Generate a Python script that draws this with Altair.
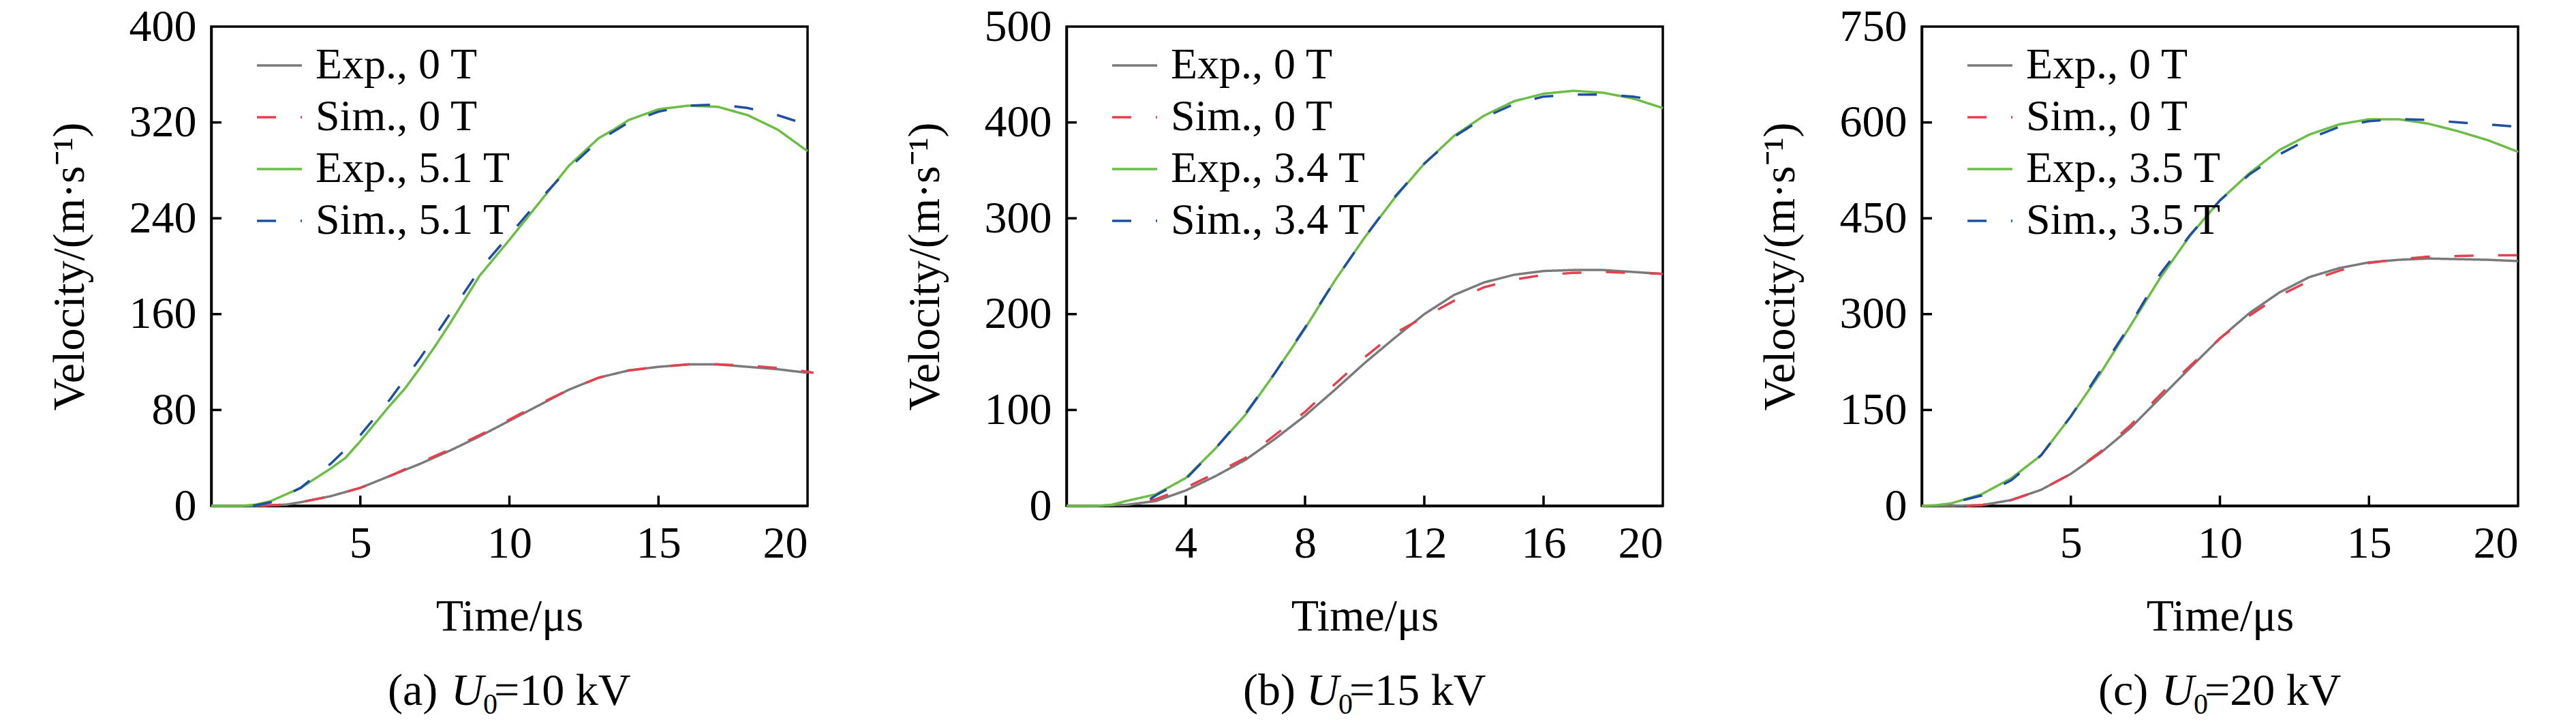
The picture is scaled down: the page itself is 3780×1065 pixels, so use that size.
import altair as alt
import pandas as pd

FONT = "Liberation Serif"
W, H = 875, 703
COLORS = ["#7a7a7a", "#e5404e", "#6cbd45", "#1f4fa0"]
DASHES = [[1, 0], [28, 36], [1, 0], [28, 36]]

# ---------- Panel (a): U0 = 10 kV ----------
a_exp0_t = [0, 1.5, 2.5, 3, 4, 5, 6, 7, 8, 9, 10, 11, 12, 13, 14, 15, 16, 17, 18, 19, 20]
a_exp0_v = [0, 0, 1, 3, 8, 15, 25, 35, 46, 58, 71, 84, 97, 107, 113, 116, 118, 118, 116, 114, 111]
a_sim0_t = [1.7, 2.5, 3, 4, 5, 6, 7, 8, 9, 10, 11, 12, 13, 14, 15, 16, 17, 18, 19, 20, 20.2]
a_sim0_v = [0, 1, 3, 8, 15, 25, 36, 47, 59, 72, 85, 97, 107, 113, 116, 118, 118, 117, 115, 112, 111]
a_expB_t = [0, 1, 1.5, 2, 3, 4, 4.5, 5, 6, 6.5, 7, 7.5, 8, 9, 10, 11, 12, 13, 13.5, 14, 15, 16, 17, 18, 19, 20]
a_expB_v = [0, 0, 1, 4, 15, 31, 40, 54, 84, 98, 115, 133, 152, 192, 222, 253, 284, 307, 314, 322, 331, 334, 333, 326, 314, 296]
a_simB_t = [1.4, 2, 3, 4, 5, 6, 7, 8, 9, 10, 11, 12, 13, 14, 15, 16, 17, 18, 19, 20]
a_simB_v = [0, 3, 15, 35, 59, 89, 123, 160, 197, 226, 255, 282, 305, 320, 329, 334, 335, 332, 326, 318]

# ---------- Panel (b): U0 = 15 kV ----------
b_exp0_t = [0, 1, 2, 3, 4, 5, 6, 7, 8, 9, 10, 11, 12, 13, 14, 15, 16, 17, 18, 19, 20]
b_exp0_v = [0, 0, 1, 5, 16, 31, 48, 70, 94, 121, 149, 175, 200, 220, 233, 241, 245, 246, 246, 244, 242]
b_sim0_t = [2.8, 3, 4, 5, 6, 7, 8, 9, 10, 11, 12, 13, 14, 15, 16, 17, 18, 19, 20]
b_sim0_v = [5, 7, 19, 34, 50, 74, 98, 127, 155, 180, 197, 214, 228, 236, 241, 243, 244, 243, 242]
b_expB_t = [0, 1, 1.5, 2, 3, 4, 5, 6, 7, 8, 9, 10, 11, 12, 13, 14, 15, 16, 17, 18, 19, 20]
b_expB_v = [0, 0, 1, 5, 12, 29, 60, 95, 139, 185, 235, 280, 321, 357, 386, 407, 422, 430, 433, 431, 425, 415]
b_simB_t = [2.8, 3, 4, 5, 6, 7, 8, 9, 10, 11, 12, 13, 14, 15, 16, 17, 18, 19, 20]
b_simB_v = [7, 11, 28, 60, 96, 139, 186, 235, 280, 322, 357, 385, 405, 419, 427, 429, 429, 427, 422]

# ---------- Panel (c): U0 = 20 kV ----------
c_exp0_t = [0, 1, 2, 3, 4, 5, 6, 7, 8, 9, 10, 11, 12, 13, 14, 15, 16, 17, 18, 19, 20]
c_exp0_v = [0, 0, 1, 9, 25, 50, 83, 122, 169, 216, 262, 302, 334, 358, 372, 381, 385, 387, 386, 385, 383]
c_sim0_t = [1.5, 2, 3, 4, 5, 6, 7, 8, 9, 10, 11, 12, 13, 14, 15, 16, 17, 18, 19, 20]
c_sim0_v = [0, 1, 9, 25, 50, 85, 126, 174, 219, 262, 298, 329, 352, 368, 380, 386, 390, 391, 392, 392]
c_expB_t = [0, 0.5, 1, 2, 3, 4, 5, 6, 7, 8, 9, 10, 11, 12, 13, 14, 15, 16, 17, 18, 19, 20]
c_expB_v = [0, 1, 4, 18, 43, 79, 140, 208, 282, 357, 423, 478, 521, 557, 581, 597, 605, 605, 598, 586, 572, 554]
c_simB_t = [1.4, 2, 3, 4, 5, 6, 7, 8, 9, 10, 11, 12, 13, 14, 15, 16, 17, 18, 19, 20]
c_simB_v = [9, 16, 40, 79, 140, 212, 284, 363, 424, 478, 519, 550, 575, 593, 602, 605, 604, 600, 597, 593]

panels = [
    dict(field="5.1", ymax=400, yticks=[0, 80, 160, 240, 320, 400], xticks=[5, 10, 15, 20],
         label="(a)", volt="=10 kV",
         series=[(a_exp0_t, a_exp0_v), (a_sim0_t, a_sim0_v), (a_expB_t, a_expB_v), (a_simB_t, a_simB_v)]),
    dict(field="3.4", ymax=500, yticks=[0, 100, 200, 300, 400, 500], xticks=[4, 8, 12, 16, 20],
         label="(b)", volt="=15 kV",
         series=[(b_exp0_t, b_exp0_v), (b_sim0_t, b_sim0_v), (b_expB_t, b_expB_v), (b_simB_t, b_simB_v)]),
    dict(field="3.5", ymax=750, yticks=[0, 150, 300, 450, 600, 750], xticks=[5, 10, 15, 20],
         label="(c)", volt="=20 kV",
         series=[(c_exp0_t, c_exp0_v), (c_sim0_t, c_sim0_v), (c_expB_t, c_expB_v), (c_simB_t, c_simB_v)]),
]


def make_panel(p):
    names = ["Exp., 0 T", "Sim., 0 T", f"Exp., {p['field']} T", f"Sim., {p['field']} T"]
    rows = []
    for name, (ts, vs) in zip(names, p["series"]):
        for t, v in zip(ts, vs):
            rows.append({"t": t, "v": v, "series": name})
    df = pd.DataFrame(rows)

    xscale = alt.Scale(domain=[0, 20], nice=False, zero=False)
    yscale = alt.Scale(domain=[0, p["ymax"]], nice=False)

    lines = alt.Chart(df).mark_line(strokeWidth=3.5, clip=False).encode(
        x=alt.X("t:Q", scale=xscale,
                axis=alt.Axis(values=p["xticks"], ticks=False, labelPadding=55,
                              labelBaseline="middle", title="Time/μs",
                              titleY=182, titleBaseline="alphabetic", grid=False)),
        y=alt.Y("v:Q", scale=yscale,
                axis=alt.Axis(values=p["yticks"], ticks=False, labelPadding=22,
                              title="Velocity/(m·s⁻¹)", titleX=-174, titleY=H / 2,
                              titleBaseline="bottom", titleAlign="center", titleAngle=270,
                              grid=False)),
        color=alt.Color("series:N", scale=alt.Scale(domain=names, range=COLORS), title=None,
                        legend=alt.Legend(orient="none", legendX=65, legendY=22)),
        strokeDash=alt.StrokeDash("series:N", scale=alt.Scale(domain=names, range=DASHES),
                                  title=None),
        order=alt.Order("t:Q"),
    )

    xt = alt.Chart(pd.DataFrame({"tick": p["xticks"][:-1]})).mark_rule(
        color="black", strokeWidth=3.5).encode(
        x=alt.X("tick:Q", scale=xscale), y=alt.value(H), y2=alt.value(H - 15))
    yt = alt.Chart(pd.DataFrame({"tick": p["yticks"][1:-1]})).mark_rule(
        color="black", strokeWidth=3.5).encode(
        y=alt.Y("tick:Q", scale=yscale), x=alt.value(0), x2=alt.value(15))

    base = alt.Chart(pd.DataFrame({"k": [0]}))
    x0 = 259
    yb = 995
    cap1 = base.mark_text(font=FONT, fontSize=66, align="left", baseline="alphabetic",
                          color="black").encode(x=alt.value(x0), y=alt.value(yb),
                                                text=alt.value(p["label"]))
    cap2 = base.mark_text(font=FONT, fontSize=66, align="left", baseline="alphabetic",
                          fontStyle="italic", color="black").encode(
        x=alt.value(x0 + 93), y=alt.value(yb), text=alt.value("U"))
    cap3 = base.mark_text(font=FONT, fontSize=42, align="left", baseline="alphabetic",
                          color="black").encode(
        x=alt.value(x0 + 140), y=alt.value(yb + 13), text=alt.value("0"))
    cap4 = base.mark_text(font=FONT, fontSize=66, align="left", baseline="alphabetic",
                          color="black").encode(
        x=alt.value(x0 + 156), y=alt.value(yb), text=alt.value(p["volt"]))

    return alt.layer(lines, xt, yt, cap1, cap2, cap3, cap4).properties(width=W, height=H)


chart = alt.hconcat(*[make_panel(p) for p in panels], spacing=380, bounds="flush").resolve_scale(
    x="independent", y="independent", color="independent", strokeDash="independent"
).resolve_legend(color="independent", strokeDash="independent").properties(
    padding={"left": 59, "top": -4, "right": 10, "bottom": 5}
).configure_view(
    stroke="black", strokeWidth=3.5
).configure_axis(
    domainColor="black", domainWidth=3.5, labelFont=FONT, labelFontSize=66, labelColor="black",
    titleFont=FONT, titleFontSize=66, titleColor="black", titleFontWeight="normal"
).configure_legend(
    labelFont=FONT, labelFontSize=64, labelColor="black", symbolType="stroke",
    symbolSize=4356, symbolStrokeWidth=3.5, labelOffset=18, rowPadding=9, padding=0,
    labelLimit=0
)

chart.save("out.html", embed_options={"renderer": "svg", "actions": False})
